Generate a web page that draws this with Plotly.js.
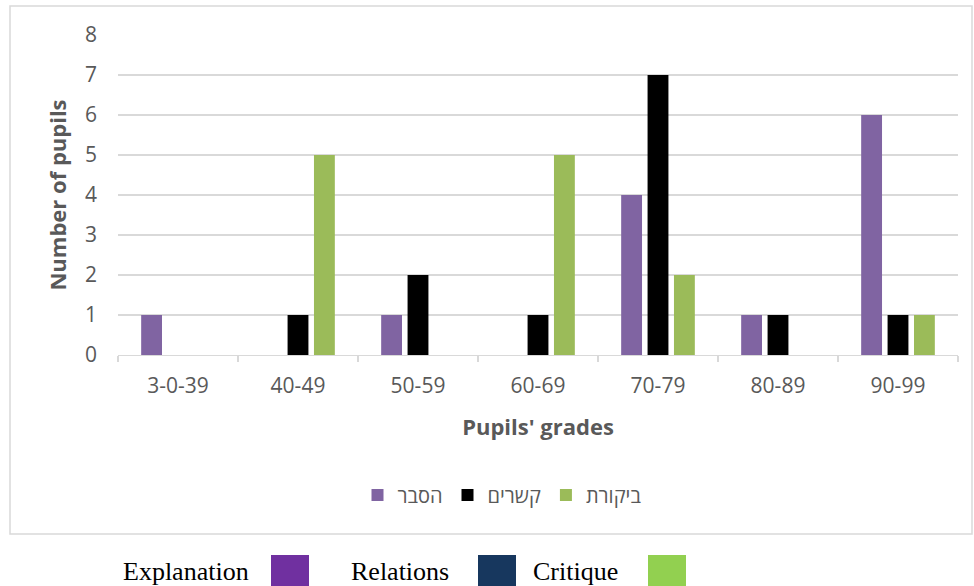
<!DOCTYPE html>
<html>
<head>
<meta charset="utf-8">
<script src="https://cdn.plot.ly/plotly-3.0.1.min.js"></script>
<style>html,body{margin:0;padding:0;background:#fff;}#chart{width:974px;height:586px;}</style>
</head>
<body>
<div id="chart"></div>
<script>
const categories = ["3-0-39", "40-49", "50-59", "60-69", "70-79", "80-89", "90-99"];
const seriesNames = ["הסבר", "קשרים", "ביקורת"];
const explanation = [1, 0, 1, 0, 4, 1, 6];
const relations = [0, 1, 2, 1, 7, 1, 1];
const critique = [0, 5, 0, 5, 2, 0, 1];
const yTicks = [0, 1, 2, 3, 4, 5, 6, 7, 8];
const keyLabels = ["Explanation", "Relations", "Critique"];

const tickFont = {family: "Open Sans, Liberation Sans, sans-serif", size: 21, color: "#595959"};
const titleFont = {family: "Open Sans, Liberation Sans, sans-serif", size: 22, color: "#595959", weight: "bold"};

const traces = [
  {type: "bar", name: seriesNames[0], x: categories, y: explanation, marker: {color: "#8064A2"}},
  {type: "bar", name: seriesNames[1], x: categories, y: relations, marker: {color: "#000000"}},
  {type: "bar", name: seriesNames[2], x: categories, y: critique, marker: {color: "#9BBB59"}}
];

// helpers for paper coords (plot area: x 118..958, y 35..355)
const px = v => (v - 118) / 840;
const py = v => (355 - v) / 320;

const shapes = [
  {type: "rect", xref: "paper", yref: "paper", x0: px(10), x1: px(972), y0: py(534), y1: py(6),
   line: {color: "#D9D9D9", width: 1.5}, fillcolor: "rgba(0,0,0,0)", layer: "below"},
  {type: "rect", xref: "paper", yref: "paper", x0: px(271), x1: px(309), y0: py(596), y1: py(555),
   line: {width: 0}, fillcolor: "#7030A0"},
  {type: "rect", xref: "paper", yref: "paper", x0: px(478), x1: px(516), y0: py(596), y1: py(555),
   line: {width: 0}, fillcolor: "#17375E"},
  {type: "rect", xref: "paper", yref: "paper", x0: px(648), x1: px(686), y0: py(596), y1: py(555),
   line: {width: 0}, fillcolor: "#92D050"}
];

const keyX = [121, 349, 531];
const annotations = keyLabels.map((t, i) => ({
  text: t, xref: "paper", yref: "paper", x: px(keyX[i]), y: py(571), xanchor: "left", yanchor: "middle",
  showarrow: false, font: {family: "Liberation Serif, Times New Roman, serif", size: 26, color: "#000000"}
}));

const layout = {
  width: 974, height: 586,
  margin: {l: 118, r: 16, t: 35, b: 231},
  paper_bgcolor: "#ffffff", plot_bgcolor: "#ffffff",
  barmode: "group", bargap: 0.34, bargroupgap: 0.21,
  showlegend: true,
  legend: {orientation: "h", x: px(502), xanchor: "center", y: py(495), yanchor: "middle",
           font: {family: "Open Sans, Liberation Sans, DejaVu Sans, sans-serif", size: 20, color: "#595959"},
           itemclick: false, traceorder: "normal"},
  xaxis: {
    type: "category", categoryorder: "array", categoryarray: categories,
    tickson: "boundaries", ticks: "outside", ticklen: 6, tickcolor: "#D9D9D9", tickwidth: 1.3,
    showline: true, linecolor: "#D9D9D9", linewidth: 1.3, showgrid: false,
    tickfont: tickFont, ticklabelstandoff: 11,
    title: {text: "Pupils' grades", font: titleFont, standoff: 22},
    fixedrange: true
  },
  yaxis: {
    range: [0, 8], tickvals: yTicks, ticktext: yTicks.map(String),
    showgrid: true, gridcolor: "#D9D9D9", gridwidth: 1.3, zeroline: false, showline: false,
    ticks: "", tickfont: tickFont, ticklabelstandoff: 20,
    title: {text: "Number of pupils", font: titleFont, standoff: 12},
    fixedrange: true
  },
  shapes: shapes,
  annotations: annotations
};

Plotly.newPlot("chart", traces, layout, {displayModeBar: false, staticPlot: true});
</script>
</body>
</html>
